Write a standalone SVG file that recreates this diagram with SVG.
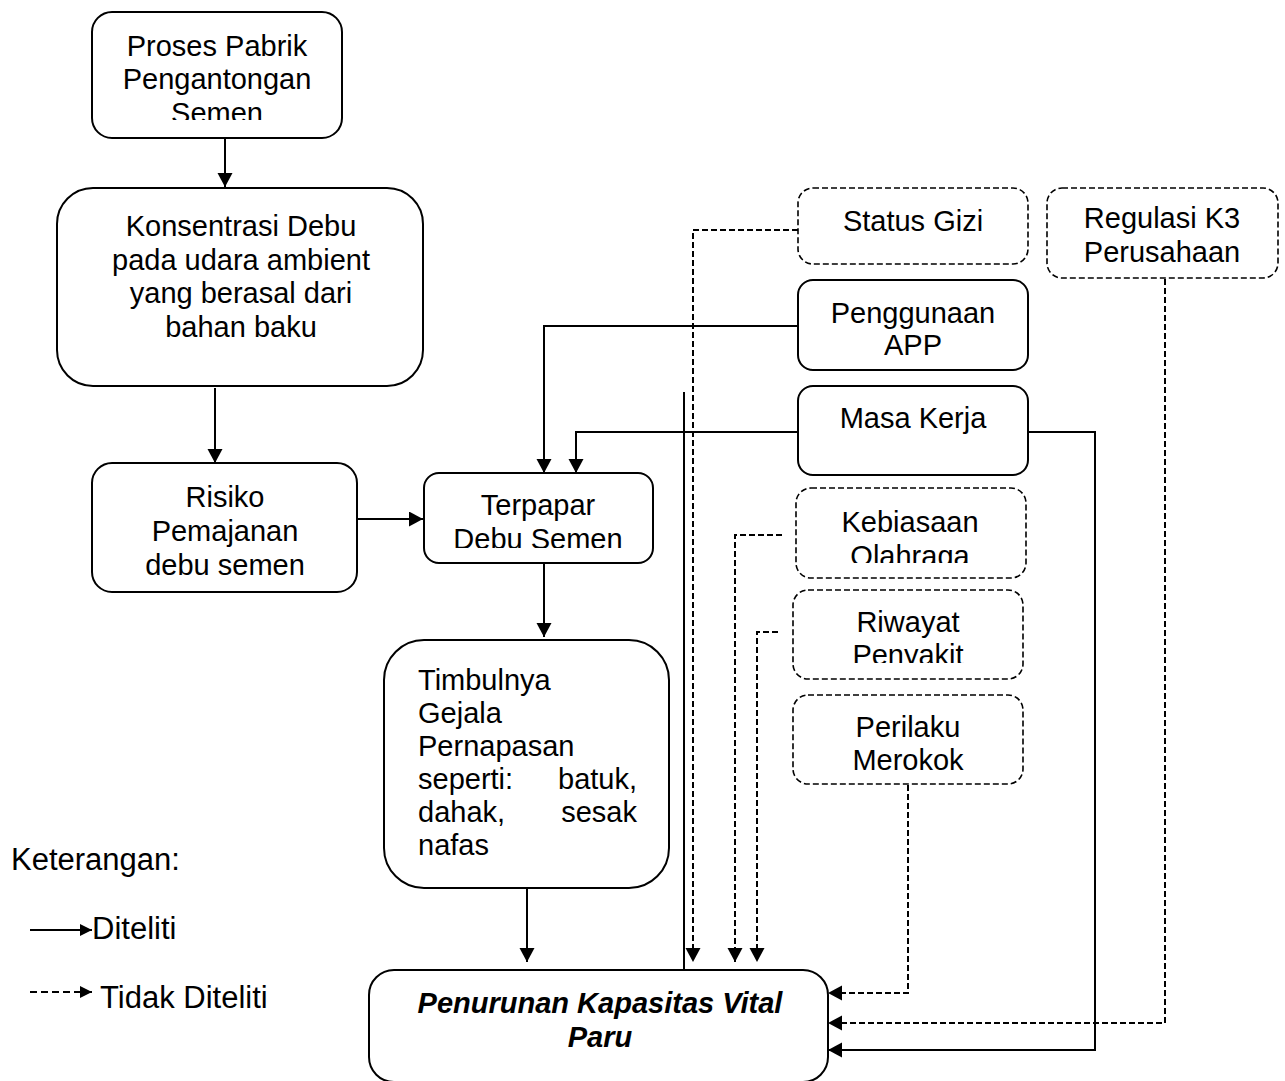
<svg xmlns="http://www.w3.org/2000/svg" width="1285" height="1081" viewBox="0 0 1285 1081">
<style>
text{font-family:"Liberation Sans",Arial,sans-serif;font-size:29px;fill:#000}
.c{text-anchor:middle}
.box{fill:#fff;stroke:#000;stroke-width:2}
.dbox{fill:#fff;stroke:#000;stroke-width:1.6;stroke-dasharray:6,3}
.ln{fill:none;stroke:#000;stroke-width:2}
.dl{fill:none;stroke:#000;stroke-width:2;stroke-dasharray:6,3}
.bi{font-weight:bold;font-style:italic}
</style>
<defs>
<marker id="ah" markerUnits="userSpaceOnUse" markerWidth="16" markerHeight="16" refX="14" refY="7.5" orient="auto">
<path d="M0,0 L14,7.5 L0,15 z" fill="#000"/>
</marker>
<marker id="ahs" markerUnits="userSpaceOnUse" markerWidth="14" markerHeight="14" refX="12" refY="6" orient="auto">
<path d="M0,0 L12,6 L0,12 z" fill="#000"/>
</marker>
<clipPath id="c1"><rect x="92" y="12" width="250" height="108"/></clipPath>
<clipPath id="c2"><rect x="424" y="473" width="230" height="75"/></clipPath>
<clipPath id="c3"><rect x="796" y="488" width="230" height="75"/></clipPath>
<clipPath id="c4"><rect x="793" y="590" width="230" height="73"/></clipPath>
<clipPath id="c5"><rect x="793" y="695" width="230" height="75"/></clipPath>
<clipPath id="c6"><rect x="1047" y="188" width="231" height="77"/></clipPath>
</defs>

<g id="connectors">
<line class="ln" x1="225" y1="139" x2="225" y2="187" marker-end="url(#ah)"/>
<line class="ln" x1="215" y1="388" x2="215" y2="463" marker-end="url(#ah)"/>
<line class="ln" x1="357" y1="519" x2="423" y2="519" marker-end="url(#ah)"/>
<polyline class="ln" points="798,326 544,326 544,473" marker-end="url(#ah)"/>
<polyline class="ln" points="798,432 576,432 576,473" marker-end="url(#ah)"/>
<line class="ln" x1="544" y1="563" x2="544" y2="637" marker-end="url(#ah)"/>
<line class="ln" x1="527" y1="888" x2="527" y2="962" marker-end="url(#ah)"/>
<line class="ln" x1="684" y1="392" x2="684" y2="970"/>
<polyline class="dl" points="798,230 693,230 693,962" marker-end="url(#ah)"/>
<polyline class="dl" points="782,535 735,535 735,962" marker-end="url(#ah)"/>
<polyline class="dl" points="778,632 757,632 757,962" marker-end="url(#ah)"/>
<polyline class="dl" points="908,785 908,993 828,993" marker-end="url(#ah)"/>
<polyline class="dl" points="1165,279 1165,1023 828,1023" marker-end="url(#ah)"/>
<polyline class="ln" points="1028,432 1095,432 1095,1050 828,1050" marker-end="url(#ah)"/>
</g>

<g id="n-proses">
<rect class="box" x="92" y="12" width="250" height="126" rx="20"/>
<g clip-path="url(#c1)">
<text class="c" x="217" y="56">Proses Pabrik</text>
<text class="c" x="217" y="89">Pengantongan</text>
<text class="c" x="217" y="123">Semen</text>
</g>
</g>

<g id="n-konsentrasi">
<rect class="box" x="57" y="188" width="366" height="198" rx="36"/>
<text class="c" x="241" y="236">Konsentrasi Debu</text>
<text class="c" x="241" y="270">pada udara ambient</text>
<text class="c" x="241" y="303">yang berasal dari</text>
<text class="c" x="241" y="337">bahan baku</text>
</g>

<g id="n-risiko">
<rect class="box" x="92" y="463" width="265" height="129" rx="20"/>
<text class="c" x="225" y="507">Risiko</text>
<text class="c" x="225" y="541">Pemajanan</text>
<text class="c" x="225" y="575">debu semen</text>
</g>

<g id="n-terpapar">
<rect class="box" x="424" y="473" width="229" height="90" rx="15"/>
<g clip-path="url(#c2)">
<text class="c" x="538" y="515">Terpapar</text>
<text class="c" x="538" y="549">Debu Semen</text>
</g>
</g>

<g id="n-timbulnya">
<rect class="box" x="384" y="640" width="285" height="248" rx="40"/>
<text x="418" y="690">Timbulnya</text>
<text x="418" y="723">Gejala</text>
<text x="418" y="756">Pernapasan</text>
<text x="418" y="789">seperti:</text>
<text x="637" y="789" text-anchor="end">batuk,</text>
<text x="418" y="822">dahak,</text>
<text x="637" y="822" text-anchor="end">sesak</text>
<text x="418" y="855">nafas</text>
</g>

<g id="n-penurunan">
<rect class="box" x="369" y="970" width="459" height="112" rx="25"/>
<text class="c bi" x="600" y="1013">Penurunan Kapasitas Vital</text>
<text class="c bi" x="600" y="1047">Paru</text>
</g>

<g id="n-status">
<rect class="dbox" x="798" y="188" width="230" height="76" rx="15"/>
<text class="c" x="913" y="231">Status Gizi</text>
</g>

<g id="n-regulasi">
<rect class="dbox" x="1047" y="188" width="231" height="90" rx="15"/>
<g clip-path="url(#c6)">
<text class="c" x="1162" y="228">Regulasi K3</text>
<text class="c" x="1162" y="262">Perusahaan</text>
</g>
</g>

<g id="n-app">
<rect class="box" x="798" y="280" width="230" height="90" rx="15"/>
<text class="c" x="913" y="323">Penggunaan</text>
<text class="c" x="913" y="355">APP</text>
</g>

<g id="n-masa">
<rect class="box" x="798" y="386" width="230" height="89" rx="15"/>
<text class="c" x="913" y="428">Masa Kerja</text>
</g>

<g id="n-olahraga">
<rect class="dbox" x="796" y="488" width="230" height="90" rx="15"/>
<g clip-path="url(#c3)">
<text class="c" x="910" y="532">Kebiasaan</text>
<text class="c" x="910" y="566">Olahraga</text>
</g>
</g>

<g id="n-riwayat">
<rect class="dbox" x="793" y="590" width="230" height="89" rx="15"/>
<g clip-path="url(#c4)">
<text class="c" x="908" y="632">Riwayat</text>
<text class="c" x="908" y="665">Penyakit</text>
</g>
</g>

<g id="n-merokok">
<rect class="dbox" x="793" y="695" width="230" height="89" rx="15"/>
<g clip-path="url(#c5)">
<text class="c" x="908" y="737">Perilaku</text>
<text class="c" x="908" y="770">Merokok</text>
</g>
</g>

<g id="legend">
<text x="11" y="870" style="font-size:31px">Keterangan:</text>
<line class="ln" x1="30" y1="930" x2="92" y2="930" marker-end="url(#ahs)"/>
<text x="92" y="939" style="font-size:31px">Diteliti</text>
<line x1="30" y1="992" x2="92" y2="992" stroke="#000" stroke-width="2" stroke-dasharray="7,4" marker-end="url(#ahs)"/>
<text x="100" y="1008" style="font-size:31px">Tidak Diteliti</text>
</g>
</svg>
